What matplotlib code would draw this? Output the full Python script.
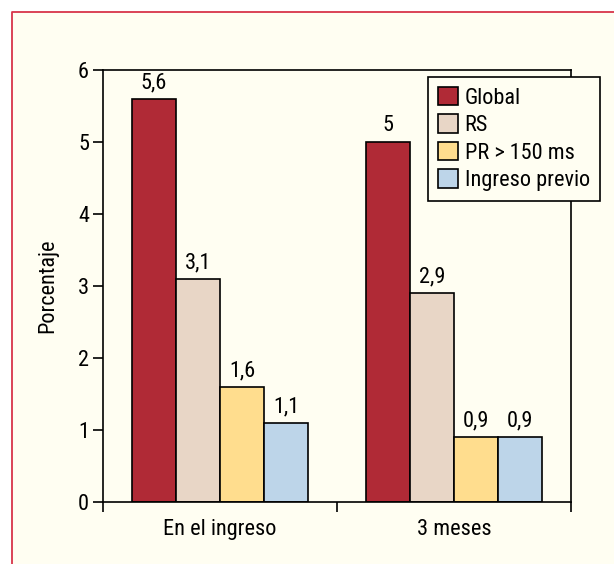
import matplotlib.pyplot as plt
from matplotlib.lines import Line2D
import numpy as np

plt.rcParams['font.family'] = ['Roboto Condensed', 'Archivo Narrow', 'DejaVu Sans']

groups = ['En el ingreso', '3 meses']
series = ['Global', 'RS', 'PR > 150 ms', 'Ingreso previo']
values = [
    [5.6, 5.0],
    [3.1, 2.9],
    [1.6, 0.9],
    [1.1, 0.9],
]
labels = [
    ['5,6', '5'],
    ['3,1', '2,9'],
    ['1,6', '0,9'],
    ['1,1', '0,9'],
]
colors = ['#B02A36', '#E8D6C6', '#FFDD8E', '#BDD5E9']

bg = '#FFFEF2'
fs = 16
fig = plt.figure(figsize=(6.14, 5.64), dpi=100)
fig.patch.set_facecolor('white')

# cream panel with red frame on the left and top
panel = plt.Rectangle((12 / 614, 0), 1, 1 - 12 / 564, transform=fig.transFigure,
                      facecolor=bg, edgecolor='none', zorder=-2)
fig.patches.append(panel)
fig.add_artist(Line2D([12 / 614, 12 / 614, 1], [0, 1 - 12 / 564, 1 - 12 / 564],
                      transform=fig.transFigure, color='#D8354A', lw=1.3))

ax = fig.add_axes([103 / 614, 1 - 502 / 564, 468 / 614, 432 / 564])
ax.set_facecolor(bg)

centers = np.array([0.5, 1.5])
w = 0.188
for i, (name, vals) in enumerate(zip(series, values)):
    xs = centers + (i - 1.5) * w
    bars = ax.bar(xs, vals, width=w, color=colors[i], edgecolor='black',
                  linewidth=1.2, label=name, zorder=2)
    for b, txt in zip(bars, labels[i]):
        ax.text(b.get_x() + b.get_width() / 2, b.get_height() + 0.08, txt,
                ha='center', va='bottom', fontsize=fs)

ax.set_xlim(0, 2)
ax.set_ylim(0, 6)
ax.set_yticks(range(7))
ax.set_xticks([0, 1, 2])
ax.set_xticklabels([])
ax.set_xticks(centers, minor=True)
ax.set_xticklabels(groups, minor=True, fontsize=fs)
ax.tick_params(axis='x', which='minor', length=0, pad=12)
ax.tick_params(axis='x', which='major', length=7, width=1.2, direction='out')
ax.tick_params(axis='y', length=7, width=1.2, labelsize=fs, pad=3)
for s in ax.spines.values():
    s.set_linewidth(1.2)
ax.set_ylabel('Porcentaje', fontsize=fs, labelpad=14)

leg = ax.legend(loc='upper left', bbox_to_anchor=(428 / 614, 1 - 77 / 564),
                bbox_transform=fig.transFigure, fontsize=fs, frameon=True,
                fancybox=False, edgecolor='black', facecolor=bg, framealpha=1,
                handlelength=0.9, handleheight=0.9, handletextpad=0.3,
                labelspacing=0.25, borderpad=0.45, borderaxespad=0)
leg.get_frame().set_linewidth(1.2)

fig.savefig('out.png', dpi=100, facecolor=fig.get_facecolor())
